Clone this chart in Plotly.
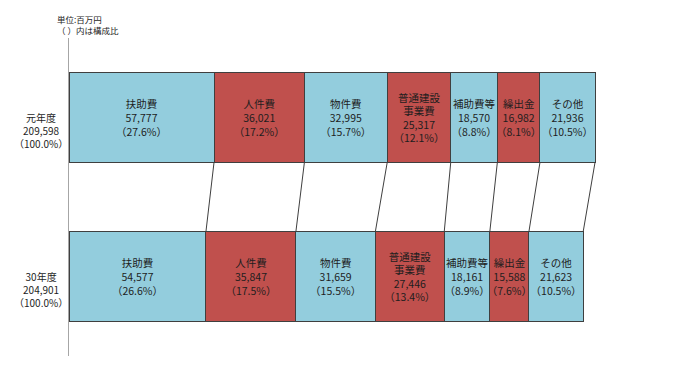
import plotly.graph_objects as go

categories = ["扶助費", "人件費", "物件費", "普通建設<br>事業費", "補助費等", "繰出金", "その他"]
values_r1 = [57777, 36021, 32995, 25317, 18570, 16982, 21936]
values_h30 = [54577, 35847, 31659, 27446, 18161, 15588, 21623]
pct_r1 = ["27.6%", "17.2%", "15.7%", "12.1%", "8.8%", "8.1%", "10.5%"]
pct_h30 = ["26.6%", "17.5%", "15.5%", "13.4%", "8.9%", "7.6%", "10.5%"]
row_labels = ["元年度", "30年度"]
totals = [209598, 204901]
total_pct = ["100.0%", "100.0%"]

colors = ["#93CDDD", "#C0504D", "#93CDDD", "#C0504D", "#93CDDD", "#C0504D", "#93CDDD"]

FONT = "Noto Sans CJK JP"
W, H = 700, 387
OFF = 8  # page body margin offset
ml, mr, mt, mb = 69 - OFF, 20, 38 - OFF, 31 + OFF
plot_w = W - ml - mr
xmax = totals[0] * plot_w / 526.0
bar_w = 90 / 159.0
y_top, y_bot = 1, 0

fig = go.Figure()
for i, cat in enumerate(categories):
    texts = [
        f"{cat}<br>{values_r1[i]:,}<br>（{pct_r1[i]}）",
        f"{cat}<br>{values_h30[i]:,}<br>（{pct_h30[i]}）",
    ]
    fig.add_trace(go.Bar(
        x=[values_r1[i], values_h30[i]],
        y=[y_top, y_bot],
        orientation="h",
        width=bar_w,
        marker=dict(color=colors[i], line=dict(color="#3f3f3f", width=1)),
        text=texts,
        textposition="inside",
        insidetextanchor="middle",
        textangle=0,
        textfont=dict(family=FONT, size=10.5, color="#1e1e1e"),
        constraintext="none",
        cliponaxis=False,
        hoverinfo="skip",
        showlegend=False,
    ))

# connector lines between the two bars
c1 = 0
c2 = 0
for i in range(len(categories)):
    c1 += values_r1[i]
    c2 += values_h30[i]
    fig.add_trace(go.Scatter(
        x=[c1, c2],
        y=[y_top - bar_w / 2, y_bot + bar_w / 2],
        mode="lines",
        line=dict(color="#3f3f3f", width=1),
        hoverinfo="skip",
        showlegend=False,
    ))

# row labels
for lab, tot, pc, yv in zip(row_labels, totals, total_pct, [y_top, y_bot]):
    fig.add_annotation(
        x=(33 - ml) / plot_w, xref="paper", y=yv, yref="y",
        text=f"{lab}<br>{tot:,}<br>（{pc}）",
        showarrow=False, xanchor="center", yanchor="middle",
        yshift=-13, align="center",
        font=dict(family=FONT, size=10, color="#1e1e1e"),
    )

fig.add_annotation(
    x=(55 - 69) / plot_w, xref="paper", y=1, yref="paper",
    text="単位:百万円<br>（ ）内は構成比",
    showarrow=False, xanchor="left", yanchor="bottom", align="left",
    yshift=0,
    font=dict(family=FONT, size=8.5, color="#1e1e1e"),
)

fig.update_layout(
    width=W, height=H,
    margin=dict(l=ml, r=mr, t=mt, b=mb, autoexpand=False),
    barmode="stack",
    plot_bgcolor="white", paper_bgcolor="white",
    uniformtext=dict(minsize=10.5, mode="show"),
    xaxis=dict(range=[0, xmax], visible=False, fixedrange=True, automargin=False),
    yaxis=dict(range=[-0.5, 1.5], showline=True, linecolor="#a6a6a6", linewidth=1,
               showticklabels=False, showgrid=False, zeroline=False, ticks="",
               automargin=False),
)

fig.write_html("out.html")
